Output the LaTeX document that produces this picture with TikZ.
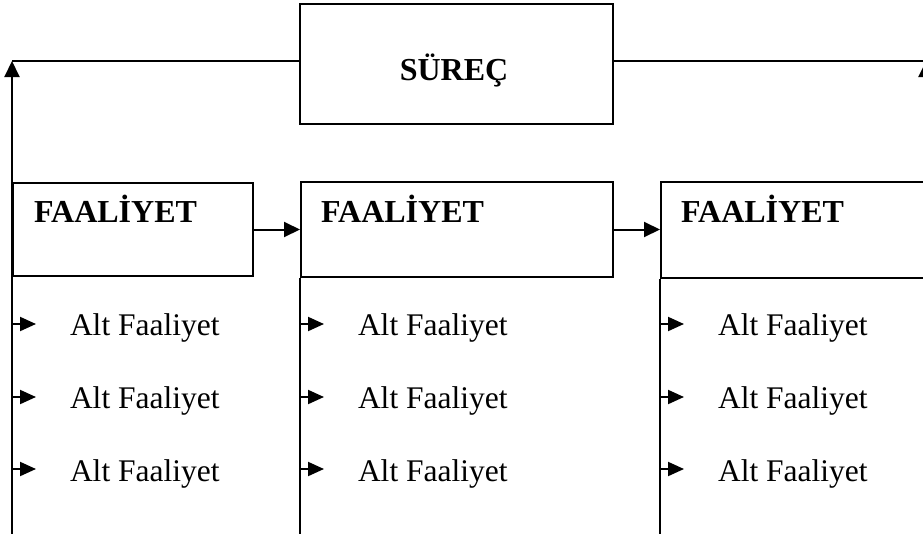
\documentclass[tikz,border=0pt]{standalone}
\usepackage{fontspec}
\setmainfont{Liberation Serif}
\usetikzlibrary{arrows.meta}
\begin{document}
\begin{tikzpicture}[x=1pt,y=-1pt,line width=2pt,
  box/.style={draw,line width=2pt,inner sep=0pt,anchor=north west},
  bigtext/.style={font=\fontsize{32}{38}\selectfont\bfseries,inner sep=0pt,anchor=base west},
  alttext/.style={font=\fontsize{31.5}{37}\selectfont,inner sep=0pt,anchor=base west},
  bigarrow/.style={-{Triangle[length=16pt,width=15pt]}},
  smallarrow/.style={-{Triangle[length=16pt,width=14pt]}}]
\useasboundingbox (0,0) rectangle (923,533);
\clip (0,0) rectangle (923,533);
\fill[white] (0,0) rectangle (923,533);
% process box
\node[box,minimum width=313pt,minimum height=120pt] (surec) at (299,3) {};
\node[bigtext,anchor=base] (surect) at (454,80) {SÜREÇ};
% activity boxes
\node[box,minimum width=240pt,minimum height=93pt] (f1) at (12,182) {};
\node[box,minimum width=312pt,minimum height=95pt] (f2) at (300,181) {};
\node[box,minimum width=268pt,minimum height=96pt] (f3) at (660,181) {};
\node[bigtext] (t1) at (33,222) {FAALİYET};
\node[bigtext] (t2) at (320,222) {FAALİYET};
\node[bigtext] (t3) at (680,222) {FAALİYET};
% corners and bottom ends
\coordinate (c1) at (12,61);
\coordinate (c3) at (926,61);
\coordinate (b1) at (12,540);
\coordinate (b2) at (300,540);
\coordinate (b3) at (660,540);
\coordinate (b4) at (926,540);
% feedback lines
\draw[bigarrow] (b1) -- (c1);
\draw (c1) -- (surec.west |- c1);
\draw[bigarrow] (b4) -- (c3);
\draw (c3) -- (surec.east |- c3);
% vertical lines below boxes
\draw (f2.south west) -- (b2);
\draw (f3.south west) -- (b3);
% arrows between boxes
\draw[bigarrow] (f1.east) -- (f1.east -| f2.west);
\draw[bigarrow] (f2.east) -- (f2.east -| f3.west);
% sub activities
\foreach \col/\x/\tx in {1/12/69,2/300/357,3/660/717}{
  \foreach \row/\y/\by in {1/324/335,2/397/408,3/469/481}{
    \coordinate (s\col\row) at (\x,\y);
    \coordinate (e\col\row) at (\x+24,\y);
    \draw[smallarrow] (s\col\row) -- (e\col\row);
    \node[alttext] (a\col\row) at (\tx,\by) {Alt Faaliyet};
  }
}
\end{tikzpicture}
\end{document}
